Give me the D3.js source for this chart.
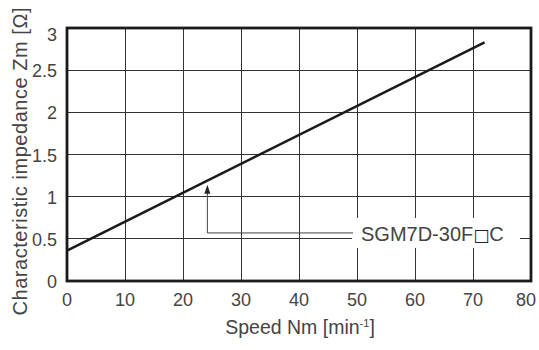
<!DOCTYPE html>
<html><head><meta charset="utf-8">
<script src="https://cdn.jsdelivr.net/npm/d3@7"></script>
<style>body{margin:0;background:#fff;} text{font-family:"Liberation Sans",Arial,sans-serif;}</style>
</head><body>
<svg id="c" width="539" height="350"></svg>
<script>
const xTicks = [0,10,20,30,40,50,60,70,80];
const yTicks = [0,0.5,1,1.5,2,2.5,3];
const yTickLabels = ["0","0.5","1","1.5","2","2.5","3"];
const speed = [0, 72];
const impedance = [0.36, 2.83];
const seriesLabelMain = "SGM7D-30F";
const seriesLabelBox = "\u25A1";
const seriesLabelEnd = "C";
const arrowAt = 24.2;
const labelAtSpeed = 50;
const labelAtY = 0.57;

const svg = d3.select("#c");
const L=67, R=531, T=28, B=281;
const x = d3.scaleLinear().domain([0,80]).range([L,R]);
const y = d3.scaleLinear().domain([0,3]).range([B,T]);
const grid = "#333";
const txt = "#444";

// grid
svg.append("g").selectAll("line").data(xTicks.slice(1,-1)).join("line")
  .attr("x1",d=>x(d)).attr("x2",d=>x(d)).attr("y1",T).attr("y2",B)
  .attr("stroke",grid).attr("stroke-width",1).attr("shape-rendering","crispEdges");
svg.append("g").selectAll("line").data(yTicks.slice(1,-1)).join("line")
  .attr("y1",d=>y(d)).attr("y2",d=>y(d)).attr("x1",L).attr("x2",R)
  .attr("stroke",grid).attr("stroke-width",1).attr("shape-rendering","crispEdges");

// label box background
const lx = x(labelAtSpeed), ly = y(labelAtY);
svg.append("rect").attr("x",lx-5).attr("y",ly-15).attr("width",168).attr("height",30).attr("fill","#fff");

// series line
const pts = speed.map((s,i)=>[s,impedance[i]]);
svg.append("path").datum(pts)
  .attr("d",d3.line().x(d=>x(d[0])).y(d=>y(d[1])))
  .attr("fill","none").attr("stroke","#1a1a1a").attr("stroke-width",2.6);

// leader with arrow
const slope = (impedance[1]-impedance[0])/(speed[1]-speed[0]);
const yOnLine = impedance[0] + slope*(arrowAt-speed[0]);
const ax = x(arrowAt), ay = y(yOnLine)+4;
svg.append("path")
  .attr("d",`M${ax},${ay+8} L${ax},${ly} L${lx-4},${ly}`)
  .attr("fill","none").attr("stroke","#444").attr("stroke-width",1);
svg.append("path")
  .attr("d",`M${ax},${ay} L${ax-3},${ay+9} L${ax+3},${ay+9} Z`)
  .attr("fill","#222");
const lt = svg.append("text").attr("x",lx+4).attr("y",ly+8).attr("font-size",20).attr("fill",txt);
lt.append("tspan").text(seriesLabelMain);
lt.append("tspan").attr("font-family","DejaVu Sans").attr("font-size",17).attr("fill","#222").text(seriesLabelBox);
lt.append("tspan").text(seriesLabelEnd);

// frame
svg.append("rect").attr("x",L).attr("y",T).attr("width",R-L).attr("height",B-T)
  .attr("fill","none").attr("stroke","#1a1a1a").attr("stroke-width",2.8);

// tick labels
svg.append("g").selectAll("text").data(xTicks).join("text")
  .attr("x",d=>Math.min(x(d), 526)).attr("y",B+25).attr("text-anchor","middle")
  .attr("font-size",18).attr("fill",txt).text(d=>d);
svg.append("g").selectAll("text").data(yTicks).join("text")
  .attr("x",L-10).attr("y",d=>y(d)+(d===3?13:7)).attr("text-anchor","end")
  .attr("font-size",18).attr("fill",txt).text((d,i)=>yTickLabels[i]);

// axis titles
const xt = svg.append("text").attr("x",(L+R)/2+1).attr("y",B+53).attr("text-anchor","middle")
  .attr("font-size",19.5).attr("fill",txt);
xt.append("tspan").text("Speed Nm [min");
xt.append("tspan").attr("dy",-7).attr("font-size",11).text("-1");
xt.append("tspan").attr("dy",7).text("]");
svg.append("text").attr("transform",`translate(27,161.5) rotate(-90)`)
  .attr("text-anchor","middle").attr("font-size",20).attr("fill",txt)
  .attr("textLength",308).attr("lengthAdjust","spacing")
  .text("Characteristic impedance Zm [\u03A9]");
</script>
</body></html>
